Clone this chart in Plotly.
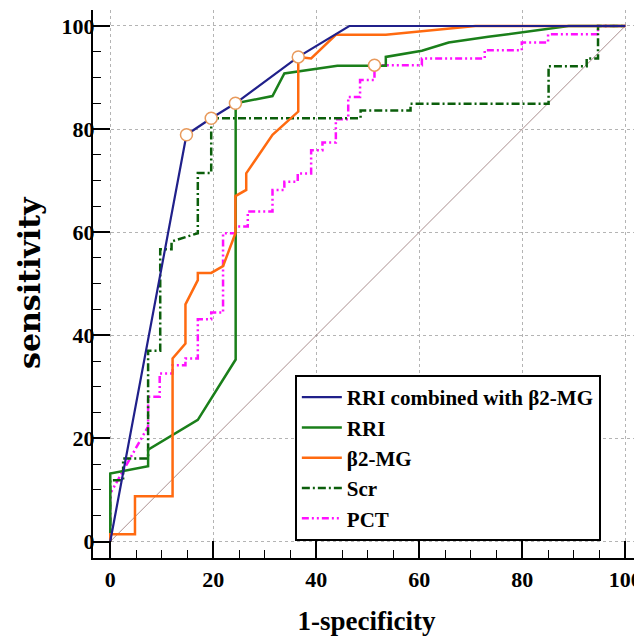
import plotly.graph_objects as go

# ---- data ----
series_names = ["RRI combined with β2-MG", "RRI", "β2-MG", "Scr", "PCT"]

combined_x = [0, 14.8, 19.6, 24.3, 36.5, 46.4, 100]
combined_y = [0, 78.9, 82.1, 85.0, 94.0, 100, 100]

rri_x = [0, 0, 7.35, 7.35, 17.0, 24.35, 24.35, 31.5, 33.8, 44.1, 53.5, 53.5, 60.5, 65.7, 73.4, 89.0, 100]
rri_y = [0, 13.2, 14.6, 17.8, 23.6, 35.3, 85.0, 86.4, 90.8, 92.3, 92.3, 94.0, 95.2, 96.8, 97.9, 100, 100]

b2mg_x = [0, 0, 4.8, 4.8, 12.1, 12.1, 14.6, 14.6, 17.0, 17.0, 19.6, 21.9, 24.3, 24.3, 26.4, 26.4,
          31.5, 36.5, 36.5, 39.0, 43.8, 53.5, 70.9, 100]
b2mg_y = [0, 1.4, 1.4, 8.8, 8.8, 35.5, 38.4, 46.0, 50.7, 52.1, 52.1, 53.4, 59.8, 67.0, 68.2, 71.4,
          78.9, 83.4, 94.0, 93.7, 98.3, 98.3, 100, 100]

scr_x = [0, 0, 2.5, 2.5, 7.35, 7.35, 9.7, 9.7, 11.9, 11.9, 17.0, 17.0, 19.6, 19.6, 48.6, 48.6,
         58.3, 58.3, 85.1, 85.1, 92.5, 92.5, 94.7, 94.7, 100]
scr_y = [0, 11.9, 11.9, 16.1, 16.1, 37.0, 37.0, 56.7, 56.7, 58.2, 59.8, 71.5, 71.5, 82.1, 82.1, 83.6,
         83.6, 84.9, 84.9, 92.2, 92.2, 93.7, 93.7, 100, 100]

pct_x = [0, 0, 7.35, 7.35, 9.6, 9.6, 12.1, 12.1, 14.6, 14.6, 17.0, 17.0, 19.6, 19.6, 21.9, 21.9,
         24.3, 24.3, 26.7, 26.7, 31.5, 31.5, 33.8, 33.8, 36.4, 36.4, 39.0, 39.0, 41.2, 41.2,
         43.8, 43.8, 46.2, 46.2, 48.5, 48.5, 51.3, 51.3, 60.5, 60.5, 72.7, 72.7, 79.9, 79.9,
         85.0, 85.0, 94.7, 94.7, 100]
pct_y = [0, 9.3, 22.3, 28.1, 28.1, 32.6, 32.6, 34.2, 34.2, 35.5, 35.5, 43.1, 43.1, 44.4, 44.4, 59.8,
         59.8, 61.1, 61.1, 64.0, 64.0, 68.2, 68.2, 69.8, 69.8, 71.4, 71.4, 75.9, 75.9, 77.4,
         77.4, 81.9, 81.9, 86.2, 86.2, 89.5, 89.5, 92.4, 92.4, 93.7, 93.7, 95.3, 95.3, 96.8,
         96.8, 98.4, 98.4, 100, 100]

cut_x = [14.8, 19.6, 24.3, 36.5, 51.3]
cut_y = [78.9, 82.1, 85.0, 94.0, 92.4]

diag_x = [0, 100]
diag_y = [0, 100]

tick_vals = [0, 20, 40, 60, 80, 100]

x_title = "1-specificity"
y_title = "sensitivity"

# ---- styles ----
SERIF = "Liberation Serif, Times New Roman, serif"
styles = [
    dict(color="#20208a", width=2.2, dash="solid"),
    dict(color="#1a7f1a", width=2.5, dash="solid"),
    dict(color="#ff6a10", width=2.5, dash="solid"),
    dict(color="#0b5e0b", width=2.5, dash="8px,3px,2px,3px"),
    dict(color="#ff10ff", width=2.5, dash="7px,3px,2px,3px,2px,3px"),
]
data_x = [combined_x, rri_x, b2mg_x, scr_x, pct_x]
data_y = [combined_y, rri_y, b2mg_y, scr_y, pct_y]

fig = go.Figure()
fig.add_trace(go.Scatter(x=diag_x, y=diag_y, mode="lines",
                         line=dict(color="#aa8e8e", width=1), showlegend=False,
                         hoverinfo="skip"))
# draw in reverse so the combined curve sits on top, legend order kept
order = [4, 3, 1, 2, 0]
for i in order:
    fig.add_trace(go.Scatter(x=data_x[i], y=data_y[i], mode="lines", name=series_names[i],
                             line=styles[i], legendrank=i + 1))
fig.add_trace(go.Scatter(x=cut_x, y=cut_y, mode="markers", showlegend=False,
                         marker=dict(size=12, color="white",
                                     line=dict(color="#e89a5c", width=1.5))))

axis_common = dict(
    tickvals=tick_vals,
    ticks="inside", ticklen=17, tickwidth=2, tickcolor="black",
    showline=True, linewidth=2, linecolor="black", mirror=False,
    showgrid=True, gridcolor="#b4b4b4", gridwidth=1, griddash="dot",
    zeroline=False,
    ticklabeloverflow="allow",
    tickfont=dict(family=SERIF, size=22, color="black", weight="bold"),
    minor=dict(dtick=5, tick0=0, ticks="inside", ticklen=8, tickwidth=1,
               tickcolor="black", showgrid=False),
)

# the page body has an 8px margin, so the figure is sized/offset to land the
# plot area on the reference's pixel positions
fig.update_layout(
    width=634, height=631,
    margin=dict(l=85, r=0, t=2, b=81),
    paper_bgcolor="white", plot_bgcolor="white",
    xaxis=dict(range=[-3.35, 102.85],
               title=dict(text=x_title, standoff=20,
                          font=dict(family=SERIF, size=27, color="black", weight="bold")),
               ticklabelstandoff=1, **axis_common),
    yaxis=dict(range=[-3.2, 103.1], ticklabelstandoff=-8, **axis_common),
    legend=dict(x=0.369, y=0.334, xanchor="left", yanchor="top",
                bgcolor="white", bordercolor="black", borderwidth=2,
                font=dict(family=SERIF, size=21, color="black", weight="bold"),
                traceorder="normal", itemwidth=40),
    showlegend=True,
)
fig.add_annotation(text=y_title, xref="paper", yref="paper", x=-0.115, y=0.502,
                   xanchor="center", yanchor="middle", textangle=-90, showarrow=False,
                   font=dict(family="DejaVu Serif, serif", size=30, color="black",
                             weight="bold"))

fig.write_html("out.html")
